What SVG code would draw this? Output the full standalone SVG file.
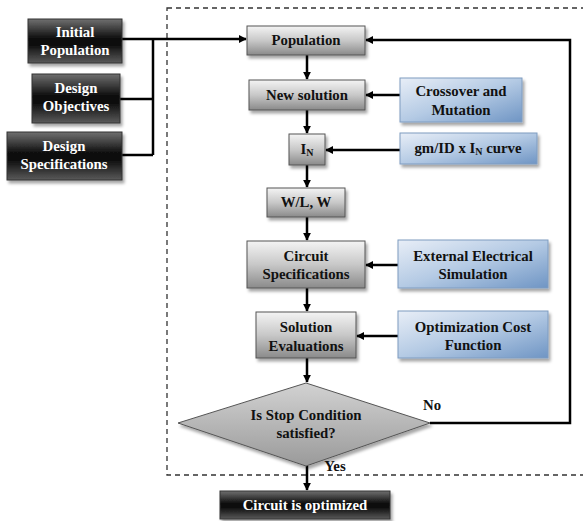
<svg xmlns="http://www.w3.org/2000/svg" width="583" height="521" viewBox="0 0 583 521">
<defs>
<linearGradient id="gDark" x1="0" y1="0" x2="0" y2="1">
<stop offset="0" stop-color="#707070"/>
<stop offset="0.45" stop-color="#0c0c0c"/>
<stop offset="0.6" stop-color="#101010"/>
<stop offset="1" stop-color="#5a5a5a"/>
</linearGradient>
<linearGradient id="gGray" x1="0" y1="0" x2="0" y2="1">
<stop offset="0" stop-color="#f4f4f4"/>
<stop offset="0.5" stop-color="#c8c8c8"/>
<stop offset="1" stop-color="#8a8a8a"/>
</linearGradient>
<linearGradient id="gBlue" x1="0" y1="0" x2="1" y2="1">
<stop offset="0" stop-color="#e8eef7"/>
<stop offset="0.5" stop-color="#b4cae4"/>
<stop offset="1" stop-color="#6f95c4"/>
</linearGradient>
<linearGradient id="gDia" x1="0" y1="0" x2="0" y2="1">
<stop offset="0" stop-color="#d2d2d2"/>
<stop offset="1" stop-color="#9a9a9a"/>
</linearGradient>
<filter id="sh" x="-10%" y="-10%" width="130%" height="140%">
<feDropShadow dx="2" dy="3" stdDeviation="1.5" flood-color="#000" flood-opacity="0.35"/>
</filter>
<marker id="ah" viewBox="0 0 10 10" refX="9" refY="5" markerWidth="3.2" markerHeight="3.2" orient="auto" markerUnits="strokeWidth">
<path d="M0,0 L10,5 L0,10 z" fill="#000"/>
</marker>
<style>
.t{font-family:"Liberation Serif","Times New Roman",serif;font-weight:bold;font-size:14.8px;text-anchor:middle}
.w{fill:#fff}
.k{fill:#111}
.dark{fill:url(#gDark);stroke:#333;stroke-width:1;filter:url(#sh)}
.gray{fill:url(#gGray);stroke:#555;stroke-width:1;filter:url(#sh)}
.blue{fill:url(#gBlue);stroke:#7f9cc0;stroke-width:1;filter:url(#sh)}
.c{fill:none;stroke:#000;stroke-width:2.5}
.a{fill:none;stroke:#000;stroke-width:2.5;marker-end:url(#ah)}
</style>
</defs>

<rect x="167" y="8" width="430" height="467" fill="none" stroke="#333" stroke-width="1.3" stroke-dasharray="5,4"/>

<g id="connectors">
<path class="c" d="M122,39 H153 M120,99 H153 M122,155 H153 M153,39 V155"/>
<path class="a" d="M153,39 H246"/>
<path class="a" d="M307,55 V79"/>
<path class="a" d="M307,110 V133"/>
<path class="a" d="M307,165 V187"/>
<path class="a" d="M307,217 V240"/>
<path class="a" d="M307,288 V311"/>
<path class="a" d="M307,358 V382"/>
<path class="a" d="M307,466 V490"/>
<path class="a" d="M400,95 H366"/>
<path class="a" d="M400,150 H326"/>
<path class="a" d="M398,265 H366"/>
<path class="a" d="M398,336 H357"/>
<path class="a" d="M430,423 H570 V40 H366"/>
</g>

<g id="initial-population">
<rect class="dark" x="28" y="19" width="94" height="44"/>
<text class="t w" x="75" y="37">Initial</text>
<text class="t w" x="75" y="55">Population</text>
</g>
<g id="design-objectives">
<rect class="dark" x="32" y="74" width="88" height="49"/>
<text class="t w" x="76" y="93">Design</text>
<text class="t w" x="76" y="111">Objectives</text>
</g>
<g id="design-specifications">
<rect class="dark" x="7" y="132" width="115" height="48"/>
<text class="t w" x="64" y="151">Design</text>
<text class="t w" x="64" y="169">Specifications</text>
</g>

<g id="population">
<rect class="gray" x="247" y="26" width="118" height="29"/>
<text class="t k" x="306" y="45">Population</text>
</g>
<g id="new-solution">
<rect class="gray" x="249" y="80" width="116" height="30"/>
<text class="t k" x="307" y="100">New solution</text>
</g>
<g id="crossover">
<rect class="blue" x="400" y="78" width="122" height="44"/>
<text class="t k" x="461" y="96">Crossover  and</text>
<text class="t k" x="461" y="115">Mutation</text>
</g>
<g id="in">
<rect class="gray" x="289" y="134" width="36" height="31"/>
<text class="t k" x="307" y="154">I<tspan font-size="10" dy="2">N</tspan></text>
</g>
<g id="gmid">
<rect class="blue" x="400" y="133" width="137" height="31"/>
<text class="t k" x="468" y="153">gm/ID x I<tspan font-size="10" dy="2">N</tspan><tspan dy="-2"> curve</tspan></text>
</g>
<g id="wl">
<rect class="gray" x="267" y="188" width="78" height="29"/>
<text class="t k" x="306" y="207">W/L, W</text>
</g>
<g id="circuit-specs">
<rect class="gray" x="247" y="241" width="118" height="47"/>
<text class="t k" x="306" y="261">Circuit</text>
<text class="t k" x="306" y="279">Specifications</text>
</g>
<g id="external-sim">
<rect class="blue" x="398" y="240" width="150" height="48"/>
<text class="t k" x="473" y="261">External Electrical</text>
<text class="t k" x="473" y="279">Simulation</text>
</g>
<g id="solution-eval">
<rect class="gray" x="256" y="312" width="100" height="46"/>
<text class="t k" x="306" y="332">Solution</text>
<text class="t k" x="306" y="351">Evaluations</text>
</g>
<g id="cost-function">
<rect class="blue" x="398" y="311" width="150" height="47"/>
<text class="t k" x="473" y="332">Optimization Cost</text>
<text class="t k" x="473" y="350">Function</text>
</g>
<g id="stop-condition">
<path d="M306,383 L430,423 L306,466 L178,423 Z" fill="url(#gDia)" stroke="#555" stroke-width="1" filter="url(#sh)"/>
<text class="t k" x="306" y="420">Is Stop Condition</text>
<text class="t k" x="306" y="438">satisfied?</text>
</g>
<text class="t k" x="432" y="410" font-size="13">No</text>
<text class="t k" x="335" y="471" font-size="13">Yes</text>
<g id="optimized">
<rect class="dark" x="220" y="491" width="170" height="28"/>
<text class="t w" x="305" y="510">Circuit is optimized</text>
</g>
</svg>
